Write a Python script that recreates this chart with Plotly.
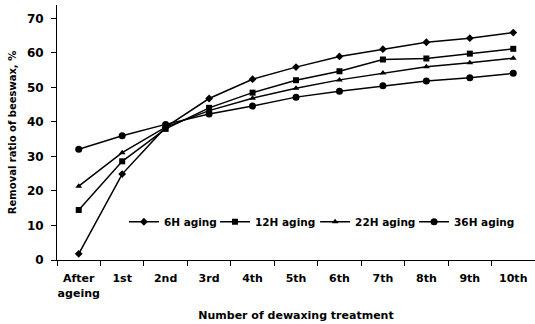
import plotly.graph_objects as go

categories = ["After<br>ageing", "1st", "2nd", "3rd", "4th", "5th", "6th", "7th", "8th", "9th", "10th"]
h6 = [1.8, 24.9, 38.5, 46.8, 52.4, 55.9, 59.0, 61.1, 63.1, 64.3, 65.9]
h12 = [14.5, 28.6, 38.0, 44.1, 48.5, 52.1, 54.7, 58.1, 58.4, 59.8, 61.2]
h22 = [21.4, 31.1, 38.5, 43.3, 46.9, 49.8, 52.2, 54.2, 56.0, 57.2, 58.5]
h36 = [32.1, 36.0, 39.3, 42.3, 44.6, 47.2, 48.9, 50.5, 51.9, 52.8, 54.1]

series = [
    ("6H aging", h6, "diamond", 6, "legend"),
    ("12H aging", h12, "square", 6, "legend2"),
    ("22H aging", h22, "triangle-up", 6, "legend3"),
    ("36H aging", h36, "circle", 7, "legend4"),
]

FONT = "DejaVu Sans"
fig = go.Figure()
for name, vals, sym, sz, lg in series:
    fig.add_trace(go.Scatter(
        x=categories, y=vals, name=name, mode="lines+markers",
        line=dict(color="black", width=1.5),
        marker=dict(symbol=sym, size=sz, color="black"),
        legend=lg,
    ))

def leg(x):
    return dict(
        orientation="h", x=x, y=0.15, xanchor="left", yanchor="middle",
        bgcolor="rgba(0,0,0,0)", font=dict(family=FONT, size=10.5, weight="bold"),
        itemwidth=30,
    )

fig.update_layout(
    width=535, height=324,
    margin=dict(l=57, r=0, t=5, b=64, autoexpand=False),
    paper_bgcolor="white", plot_bgcolor="white",
    font=dict(family=FONT, size=11, color="black", weight="bold"),
    showlegend=True,
    legend=leg(0.140),
    legend2=leg(0.3305),
    legend3=leg(0.540),
    legend4=leg(0.747),
    xaxis=dict(
        type="category", range=[-0.5, 10.5], showline=True, linecolor="black", linewidth=1,
        ticks="outside", tickson="boundaries", ticklen=5, tickcolor="black",
        showgrid=False, zeroline=False, tickangle=0, automargin=False,
        ticklabelstandoff=8,
        tickfont=dict(family=FONT, size=11, weight="bold"),
        title=dict(text="Number of dewaxing treatment", standoff=12,
                   font=dict(family=FONT, size=11, weight="bold")),
    ),
    yaxis=dict(
        range=[0, 73.9], tickvals=[0, 10, 20, 30, 40, 50, 60, 70],
        showline=True, linecolor="black", linewidth=1, automargin=False,
        ticks="outside", ticklen=5, tickcolor="black", ticklabelstandoff=5,
        showgrid=False, zeroline=False,
        tickfont=dict(family=FONT, size=12, weight="bold"),
        title=dict(text="Removal ratio of beeswax, %", standoff=8,
                   font=dict(family=FONT, size=10, weight="bold")),
    ),
)

fig.write_html("out.html")
